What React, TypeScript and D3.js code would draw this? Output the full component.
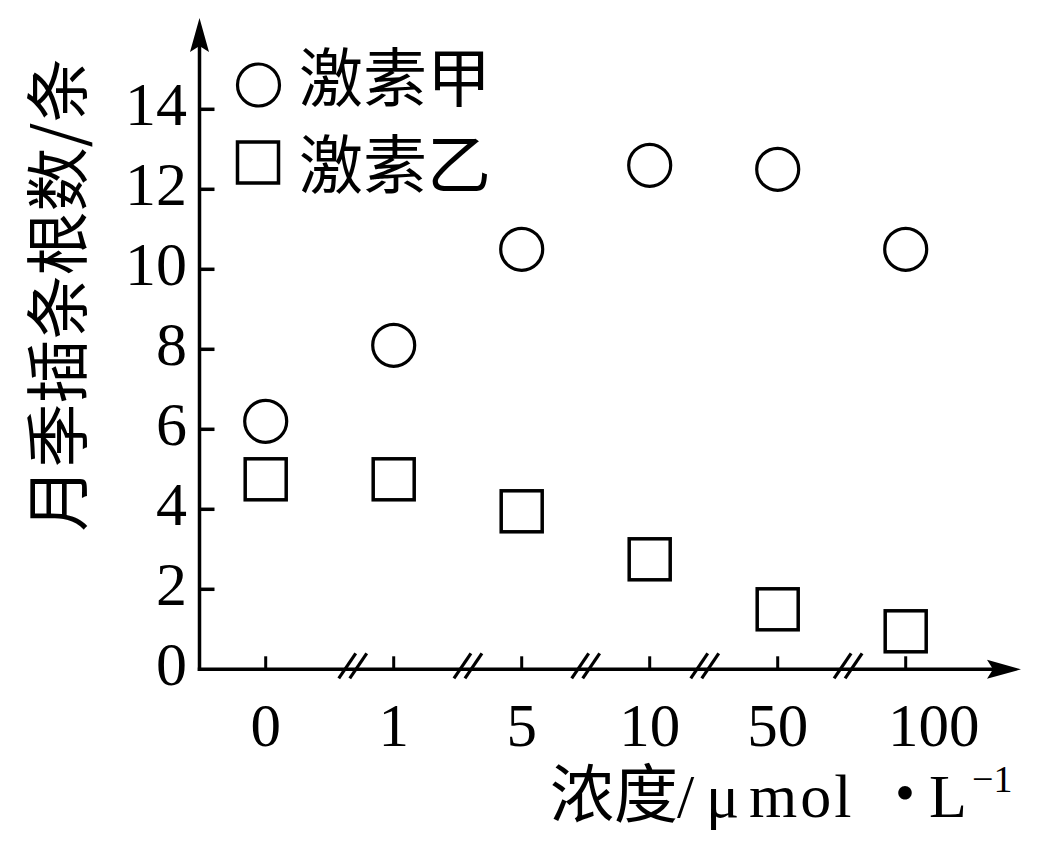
import React from 'react';
import * as d3 from 'd3';

const categories = ['0', '1', '5', '10', '50', '100'];
const hormoneA = [6.2, 8.1, 10.5, 12.6, 12.5, 10.5];
const hormoneB = [4.75, 4.75, 3.95, 2.75, 1.5, 0.95];
const yTickValues = [0, 2, 4, 6, 8, 10, 12, 14];
const seriesNames = ['激素甲', '激素乙'];
const yTitle = '月季插条根数/条';
const breakFractions = [0.68, 0.58, 0.5, 0.43, 0.55];

const CJK = '"Noto Sans CJK SC", sans-serif';
const SERIF = '"Liberation Serif", "Times New Roman", serif';

export default function App() {
  const W = 1063;
  const H = 846;
  const x = d3.scalePoint<string>().domain(categories).range([265.7, 905.7]);
  const y = d3.scaleLinear().domain([0, 14]).range([669.3, 109.3]);
  const ax = 199.5;
  const ay = y(0);
  const xEnd = 1021;
  const yTop = 18;
  const sw = 3.5;

  const arrowUp = `M${ax},${yTop} L${ax - 9.5},${yTop + 34} L${ax},${yTop + 28} L${ax + 9.5},${yTop + 34} Z`;
  const arrowRight = `M${xEnd},${ay} L${xEnd - 34},${ay - 9.5} L${xEnd - 28},${ay} L${xEnd - 34},${ay + 9.5} Z`;

  const breaks = breakFractions.map((f, i) => {
    const a = x(categories[i]) as number;
    const b = x(categories[i + 1]) as number;
    return a + (b - a) * f;
  });

  const sq = 41;
  const cr = 21;

  return (
    <svg width={W} height={H} style={{ position: 'absolute', left: 0, top: 0, background: '#fff' }}>
      <rect x={0} y={0} width={W} height={H} fill="#fff" />
      {/* axes */}
      <line x1={ax} y1={ay + sw / 2} x2={ax} y2={yTop + 20} stroke="#000" strokeWidth={sw} />
      <path d={arrowUp} fill="#000" />
      <line x1={ax - sw / 2} y1={ay} x2={xEnd - 20} y2={ay} stroke="#000" strokeWidth={sw} />
      <path d={arrowRight} fill="#000" />

      {/* y ticks */}
      {yTickValues.map((v) => (
        <g key={'yt' + v}>
          {v !== 0 && (
            <line x1={ax} x2={ax + 15} y1={y(v)} y2={y(v)} stroke="#000" strokeWidth={sw} />
          )}
          <text x={187} y={y(v) + 16} textAnchor="end" fontFamily={SERIF} fontSize={62} fill="#000">
            {v}
          </text>
        </g>
      ))}

      {/* x ticks */}
      {categories.map((c, i) => (
        <g key={'xt' + c}>
          <line x1={x(c)} x2={x(c)} y1={ay} y2={ay - 13} stroke="#000" strokeWidth={3} />
          <text
            x={(x(c) as number) + (i === categories.length - 1 ? 28 : 0)}
            y={746}
            textAnchor="middle"
            fontFamily={SERIF}
            fontSize={61}
            fill="#000"
          >
            {c}
          </text>
        </g>
      ))}

      {/* axis breaks */}
      {breaks.map((bx, i) => (
        <g key={'br' + i}>
          {[-5.5, 5.5].map((o) => (
            <line
              key={o}
              x1={bx + o - 8.5}
              y1={ay + 9}
              x2={bx + o + 8.5}
              y2={ay - 16}
              stroke="#000"
              strokeWidth={3.2}
            />
          ))}
        </g>
      ))}

      {/* series: circles */}
      {hormoneA.map((v, i) => (
        <circle
          key={'a' + i}
          cx={x(categories[i])}
          cy={y(v)}
          r={cr}
          fill="none"
          stroke="#000"
          strokeWidth={3.2}
        />
      ))}
      {/* series: squares */}
      {hormoneB.map((v, i) => (
        <rect
          key={'b' + i}
          x={(x(categories[i]) as number) - sq / 2}
          y={y(v) - sq / 2}
          width={sq}
          height={sq}
          fill="none"
          stroke="#000"
          strokeWidth={3.5}
        />
      ))}

      {/* legend */}
      <circle cx={258.5} cy={85} r={cr} fill="none" stroke="#000" strokeWidth={3.2} />
      <text x={299} y={101} fontFamily={CJK} fontSize={64} fill="#000">
        {seriesNames[0]}
      </text>
      <rect x={258 - sq / 2} y={162.5 - sq / 2} width={sq} height={sq} fill="none" stroke="#000" strokeWidth={3.5} />
      <text x={299} y={188} fontFamily={CJK} fontSize={64} fill="#000">
        {seriesNames[1]}
      </text>

      {/* y title */}
      <text
        transform={`translate(53, 295) rotate(-90)`}
        textAnchor="middle"
        dominantBaseline="central"
        fontFamily={CJK}
        fontSize={64}
        fill="#000"
      >
        {yTitle}
      </text>

      {/* x title */}
      <text y={817} fill="#000">
        <tspan x={550} fontFamily={CJK} fontSize={64}>浓度</tspan>
        <tspan x={677} fontFamily={SERIF} fontSize={62}>/</tspan>
        <tspan x={706} fontFamily={SERIF} fontSize={62}>μ</tspan>
        <tspan x={749} fontFamily={SERIF} fontSize={62} letterSpacing={3}>mol</tspan>
        <tspan x={873} fontFamily={CJK} fontSize={64}>・</tspan>
        <tspan x={929} fontFamily={SERIF} fontSize={62}>L</tspan>
        <tspan x={972} dy={-25} fontFamily={SERIF} fontSize={38}>−1</tspan>
      </text>
    </svg>
  );
}
